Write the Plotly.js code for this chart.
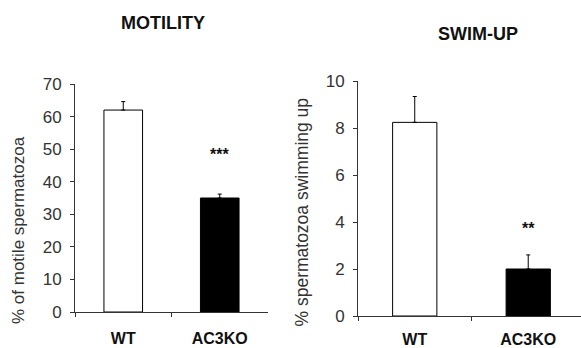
<!DOCTYPE html>
<html>
<head>
<meta charset="utf-8">
<script src="https://cdn.plot.ly/plotly-3.0.1.min.js"></script>
<style>html,body{margin:0;padding:0;background:#fff;}#chart{width:581px;height:348px;}</style>
</head>
<body>
<div id="chart"></div>
<script>
var categories = ['WT', 'AC3KO'];
var motility = [62, 35];
var motilityErr = [2.6, 1.2];
var swimUp = [8.24, 2.0];
var swimUpErr = [1.1, 0.6];
var motilitySig = ['', '***'];
var swimUpSig = ['', '**'];
var motilityTicks = [0, 10, 20, 30, 40, 50, 60, 70];
var swimUpTicks = [0, 2, 4, 6, 8, 10];

var W = 581, H = 348;
var FONT = 'Liberation Sans, Arial, Helvetica, sans-serif';
var barColors = ['#ffffff', '#000000'];

var traces = [
  {
    type: 'bar', x: categories, y: motility, xaxis: 'x', yaxis: 'y',
    width: 0.4,
    marker: {color: barColors, line: {color: '#000', width: 1}},
    error_y: {type: 'data', symmetric: false, array: motilityErr, arrayminus: [0, 0], color: '#000', thickness: 1, width: 2},
    hoverinfo: 'skip'
  },
  {
    type: 'bar', x: categories, y: swimUp, xaxis: 'x2', yaxis: 'y2',
    width: 0.39,
    marker: {color: barColors, line: {color: '#000', width: 1}},
    error_y: {type: 'data', symmetric: false, array: swimUpErr, arrayminus: [0, 0], color: '#000', thickness: 1, width: 2},
    hoverinfo: 'skip'
  }
];

function yAx(domTop, domBot, range, ticks, anchor) {
  return {
    domain: [1 - domBot / H, 1 - domTop / H],
    range: range, tickvals: ticks, ticktext: ticks.map(String),
    showgrid: false, zeroline: false, showline: true, linecolor: '#333', linewidth: 1,
    ticks: 'outside', ticklen: 4, tickcolor: '#333', tickwidth: 1,
    ticklabelstandoff: 5,
    tickfont: {family: FONT, size: 17, color: '#333'},
    anchor: anchor, fixedrange: true
  };
}
function xAx(left, right, range, anchor, standoff) {
  return {
    domain: [left / W, right / W],
    range: range, type: 'category',
    showgrid: false, zeroline: false, showline: true, linecolor: '#333', linewidth: 1,
    ticks: 'outside', ticklen: 4, tickcolor: '#333', tickwidth: 1, tickson: 'boundaries',
    ticklabelstandoff: standoff,
    tickfont: {family: FONT, size: 16, color: '#111', weight: 'bold'},
    anchor: anchor, fixedrange: true
  };
}

var annotations = [
  {xref: 'paper', yref: 'paper', x: 163 / W, y: 1 - 23.5 / H, text: 'MOTILITY', showarrow: false,
   xanchor: 'center', yanchor: 'middle', font: {family: FONT, size: 18, color: '#111', weight: 'bold'}},
  {xref: 'paper', yref: 'paper', x: 477.5 / W, y: 1 - 34 / H, text: 'SWIM-UP', showarrow: false,
   xanchor: 'center', yanchor: 'middle', font: {family: FONT, size: 18, color: '#111', weight: 'bold'}},
  {xref: 'paper', yref: 'paper', x: 18 / W, y: 1 - 230 / H, text: '% of motile spermatozoa', textangle: -90,
   showarrow: false, xanchor: 'center', yanchor: 'middle', font: {family: FONT, size: 17, color: '#333'}},
  {xref: 'paper', yref: 'paper', x: 301.5 / W, y: 1 - 212 / H, text: '% spermatozoa swimming up', textangle: -90,
   showarrow: false, xanchor: 'center', yanchor: 'middle', font: {family: FONT, size: 17.5, color: '#333'}}
];
categories.forEach(function (c, i) {
  if (motilitySig[i]) annotations.push({xref: 'x', yref: 'y', x: c, y: 48.5, text: motilitySig[i], showarrow: false,
    xanchor: 'center', yanchor: 'middle', font: {family: FONT, size: 16, color: '#111', weight: 'bold'}});
  if (swimUpSig[i]) annotations.push({xref: 'x2', yref: 'y2', x: c, y: 3.74, text: swimUpSig[i], showarrow: false,
    xanchor: 'center', yanchor: 'middle', font: {family: FONT, size: 16, color: '#111', weight: 'bold'}});
});

var layout = {
  width: W, height: H,
  margin: {l: 0, r: 0, t: 0, b: 0, pad: 0},
  paper_bgcolor: '#fff', plot_bgcolor: 'rgba(0,0,0,0)',
  showlegend: false,
  xaxis: xAx(75, 268, [-0.5, 1.5], 'y', 12),
  yaxis: yAx(84, 312, [0, 70], motilityTicks, 'x'),
  xaxis2: xAx(358, 581, [-0.5, 1.465], 'y2', 9),
  yaxis2: yAx(81, 316, [0, 10], swimUpTicks, 'x2'),
  annotations: annotations
};

Plotly.newPlot('chart', traces, layout, {displayModeBar: false, staticPlot: true});
</script>
</body>
</html>
